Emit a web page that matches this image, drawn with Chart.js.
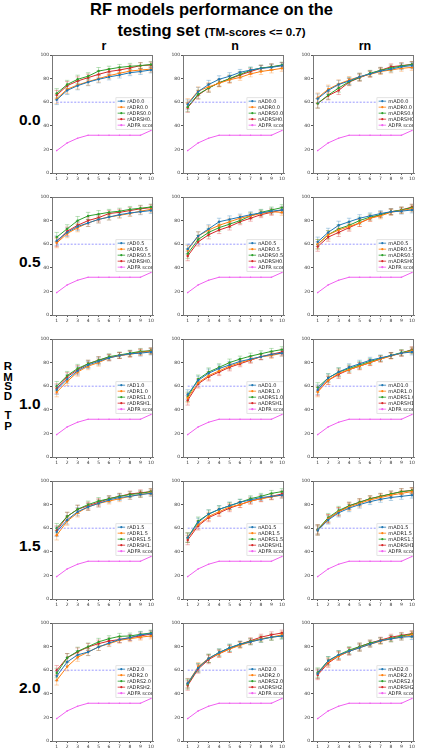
<!DOCTYPE html>
<html>
<head>
<meta charset="utf-8">
<script src="https://cdn.jsdelivr.net/npm/chart.js@4"></script>
<style>
  body { margin: 0; background: #fff; width: 423px; height: 750px; position: relative; overflow: hidden;
         font-family: "Liberation Sans", Arial, sans-serif; }
  .t { position: absolute; font-weight: bold; color: #000; white-space: nowrap; line-height: 1; }
  canvas { position: absolute; }
</style>
</head>
<body>
<div class="t" style="left:0;width:423px;text-align:center;top:1px;font-size:16.5px;">RF models performance on the</div>
<div class="t" style="left:0;width:423px;text-align:center;top:22px;font-size:16.5px;">testing set <span style="font-size:11.5px">(TM-scores &lt;= 0.7)</span></div>
<div id="labels"></div>

<script>
// x positions and y ticks
const XS = [1, 2, 3, 4, 5, 6, 7, 8, 9, 10];
const Y_TICKS = [0, 20, 40, 60, 80, 100];

// shared across every panel
const ADFR = [19, 25.5, 29.5, 32, 32, 32, 32, 32, 32, 36];
const BASELINE = [60, 60, 60, 60, 60, 60, 60, 60, 60, 60];
const ERR = [4, 3.5, 3.5, 3, 3, 2.5, 2.5, 2.5, 2.5, 2.5];

const COL_NAMES = ['r', 'n', 'rn'];
const ROW_NAMES = ['0.0', '0.5', '1.0', '1.5', '2.0'];
const MODELS = ['AD', 'ADR', 'ADRS', 'ADRSH'];

// each panel: [AD, ADR, ADRS, ADRSH]
const R_00 = [
  [62, 70, 74, 77, 79.4, 81.4, 83, 85, 86, 87.3],
  [63, 71, 74.6, 77.4, 80, 82.5, 84.5, 86.4, 87.3, 88],
  [67.5, 75, 79.4, 82, 86.4, 88, 89.5, 90.4, 91, 92],
  [66, 74, 78, 80.8, 83.6, 86, 87.3, 89, 91, 91.5]
];
const N_00 = [
  [58, 69, 75, 79.4, 82, 85.3, 87.3, 88.7, 89.5, 91],
  [59, 69.5, 73, 76, 79, 81, 84, 86, 87.3, 88.7],
  [56, 66.7, 72, 76.5, 80, 83.6, 87, 89, 90, 91.5],
  [55.4, 66, 72, 76.5, 79.7, 83, 86, 88.7, 90, 91]
];
const RN_00 = [
  [63, 70, 75, 78, 81.6, 84, 86.4, 88, 90, 91],
  [63.8, 71, 75.4, 78.8, 81.6, 83.6, 86, 87.3, 88.7, 89.5],
  [59, 66, 72, 77.4, 81, 84.5, 87, 89, 90.7, 92],
  [59, 65.5, 70, 77, 80.8, 84, 87, 90, 91, 92]
];
const R_05 = [
  [63, 70, 75, 78, 81, 83, 85, 86.5, 87.5, 88.5],
  [61, 69, 74, 78, 81, 83, 84.5, 86, 88, 89.5],
  [66, 73, 80, 84, 85.5, 87, 88, 89.5, 90.5, 91.5],
  [62, 71, 76, 80, 82.5, 86, 87, 88.5, 90, 91]
];
const N_05 = [
  [56, 67, 73, 79, 81, 83, 85, 86.5, 88, 89],
  [55, 67, 72, 76, 79, 82, 84, 86, 87.5, 87],
  [52, 64, 70, 74, 77, 80, 84, 87, 89, 91],
  [50, 62, 68, 72, 75, 79, 82, 85, 87, 89]
];
const RN_05 = [
  [62, 70, 76, 79, 82, 84, 86, 87.5, 88, 89],
  [60, 68, 72, 75, 78, 82, 84, 87, 88.5, 90],
  [60, 68, 73, 76, 80, 83, 85, 87.5, 89, 91],
  [58, 66, 70, 74, 78, 82, 85, 87.5, 89, 91.5]
];
const R_10 = [
  [57, 66, 73, 78, 81, 84, 86, 87.5, 88, 89],
  [55, 64, 72, 77, 80, 84, 86, 87, 88.5, 89.5],
  [60, 69, 75, 79, 82, 85, 86.5, 88, 89.5, 90],
  [58, 68, 74, 79, 82, 84.5, 86, 87.5, 89, 90]
];
const N_10 = [
  [53, 65, 71, 75, 78, 81, 83, 85, 87, 88],
  [50, 63, 69, 73, 77, 80, 82.5, 85, 86, 88],
  [51, 66, 72, 76, 80, 83, 85.5, 87.5, 89.5, 91],
  [48, 62, 68, 72, 76, 79, 82, 85, 87, 89]
];
const RN_10 = [
  [57, 67, 72, 76, 79, 82, 84, 86, 88, 89],
  [55, 65, 71, 74, 77, 80, 83, 85.5, 88, 90],
  [59, 67, 72, 75, 78, 81, 83.5, 86, 88.5, 90.5],
  [56, 65, 70, 74, 77, 80, 83, 86, 88, 91]
];
const R_15 = [
  [57, 67, 74, 78, 81, 84, 86, 87, 88.5, 89.5],
  [54, 66, 73, 78, 81, 83, 85, 87, 88.5, 90],
  [60, 70, 76, 80, 83, 85, 87, 88.5, 89.5, 91],
  [58, 70, 76, 79, 82, 85, 87, 89, 90, 91]
];
const N_15 = [
  [52, 65, 72, 76, 79, 82, 84, 86, 87, 88],
  [52, 63, 70, 74, 78, 80, 83, 85, 86.5, 88],
  [52, 66, 72, 76, 79, 82, 85, 87, 89.5, 91],
  [50, 62, 69, 73, 77, 80, 83, 85, 87, 89]
];
const RN_15 = [
  [58, 67, 73, 77, 80, 82.5, 84.5, 86, 87, 88],
  [58, 68, 74, 78, 81, 84, 86, 88, 89.5, 91],
  [59, 69, 75, 79, 82, 85, 87, 89, 91, 92],
  [59, 68, 74, 79, 82, 85, 87, 89, 91, 92]
];
const R_20 = [
  [55, 67, 73, 75.4, 79.7, 83, 86, 87.6, 90, 91],
  [51.4, 63, 71, 75.4, 79.7, 82.5, 85.3, 86.7, 88, 89],
  [57.6, 70.6, 76, 80, 84, 86.7, 88.7, 89, 90.4, 91.5],
  [60, 70.6, 75.4, 79.7, 82.5, 84.7, 86, 87.6, 89, 90.7]
];
const N_20 = [
  [49, 62, 70, 75, 79, 82, 84, 86, 88, 89],
  [49, 63, 70, 74, 78, 81, 84, 86.5, 88, 90],
  [48, 62, 70, 75, 79, 82, 84.5, 86.5, 88, 89],
  [47, 61, 69, 74, 78, 82, 85, 88, 90, 91.5]
];
const RN_20 = [
  [57, 68, 73, 76, 79, 82, 85, 86.5, 88, 88.5],
  [57, 67, 72, 76, 79, 82, 84.5, 86.5, 88, 90],
  [58, 68, 73, 77, 80, 83, 85, 87, 89, 90.5],
  [56, 66, 72, 76, 80, 83, 85.5, 88, 89.5, 91]
];

const PANELS = [
  [R_00, N_00, RN_00],
  [R_05, N_05, RN_05],
  [R_10, N_10, RN_10],
  [R_15, N_15, RN_15],
  [R_20, N_20, RN_20]
];

const COLORS = ['#1f77b4', '#ff7f0e', '#2ca02c', '#d62728'];
const ERR_COLORS = ['rgba(31,119,180,0.4)', 'rgba(255,127,14,0.4)', 'rgba(44,160,44,0.4)', 'rgba(214,39,40,0.4)'];
const ADFR_COLOR = '#f060f0';

// panel geometry (chart area)
const COL_X = [52, 183, 313];
const ROW_Y = [55, 197, 339, 481, 623];
const PW = 104, PH = 118;
const PAD_L = 16, PAD_T = 5, PAD_B = 12, PAD_R = 1;

const errorBars = {
  id: 'errorBars',
  beforeDatasetsDraw(chart) {
    const { ctx, scales: { x, y } } = chart;
    ctx.save();
    chart.data.datasets.forEach(ds => {
      if (!ds.err) return;
      ctx.strokeStyle = ds.errColor;
      ctx.lineWidth = 0.8;
      ds.data.forEach((v, i) => {
        const px = x.getPixelForValue(XS[i]);
        const y1 = y.getPixelForValue(v - ds.err[i]);
        const y2 = y.getPixelForValue(v + ds.err[i]);
        ctx.beginPath();
        ctx.moveTo(px, y1); ctx.lineTo(px, y2);
        ctx.moveTo(px - 2.2, y1); ctx.lineTo(px + 2.2, y1);
        ctx.moveTo(px - 2.2, y2); ctx.lineTo(px + 2.2, y2);
        ctx.stroke();
      });
    });
    ctx.restore();
  }
};

const frameAndLegend = {
  id: 'frameAndLegend',
  afterDatasetsDraw(chart) {
    const { ctx, chartArea: a, scales: { y } } = chart;
    ctx.save();
    ctx.beginPath();
    ctx.rect(a.left, a.top, a.right - a.left, a.bottom - a.top);
    ctx.clip();
    const items = chart.data.datasets.filter(d => d.label);
    const x0 = a.left + 0.63 * (a.right - a.left);
    const y0 = y.getPixelForValue(64);
    const rowH = 6;
    ctx.fillStyle = 'rgba(255,255,255,0.9)';
    ctx.fillRect(x0, y0, 50, items.length * rowH + 1.5);
    ctx.strokeStyle = '#d0d0d0';
    ctx.lineWidth = 0.6;
    ctx.strokeRect(x0 + 0.3, y0 + 0.3, 50, items.length * rowH + 1.5);
    ctx.font = '5px "DejaVu Sans"';
    ctx.textBaseline = 'middle';
    items.forEach((d, i) => {
      const cy = y0 + 3.7 + i * rowH;
      ctx.strokeStyle = d.borderColor;
      ctx.lineWidth = 0.8;
      ctx.beginPath();
      ctx.moveTo(x0 + 2, cy); ctx.lineTo(x0 + 9.5, cy);
      ctx.stroke();
      ctx.fillStyle = d.borderColor;
      ctx.beginPath();
      ctx.arc(x0 + 5.7, cy, 1.1, 0, Math.PI * 2);
      ctx.fill();
      ctx.fillStyle = '#222';
      ctx.fillText(d.label, x0 + 11.5, cy + 0.3);
    });
    ctx.restore();
    ctx.save();
    ctx.strokeStyle = '#777';
    ctx.lineWidth = 1;
    ctx.strokeRect(a.left + 0.5, a.top + 0.5, a.right - a.left - 1, a.bottom - a.top);
    ctx.restore();
  }
};

function makePanel(row, col) {
  const cv = document.createElement('canvas');
  const w = PW + PAD_L + PAD_R, h = PH + PAD_T + PAD_B;
  cv.width = w; cv.height = h;
  cv.style.left = (COL_X[col] - PAD_L) + 'px';
  cv.style.top = (ROW_Y[row] - PAD_T) + 'px';
  document.body.appendChild(cv);

  const series = PANELS[row][col];
  const datasets = series.map((vals, k) => ({
    label: COL_NAMES[col] + MODELS[k] + ROW_NAMES[row],
    data: vals,
    err: ERR,
    errColor: ERR_COLORS[k],
    borderColor: COLORS[k],
    backgroundColor: COLORS[k],
    borderWidth: 1,
    pointRadius: 1.2,
    pointBorderWidth: 0,
    tension: 0
  }));
  datasets.unshift({
    label: '',
    data: BASELINE,
    borderColor: '#8080ff',
    borderWidth: 0.8,
    borderDash: [2, 1.5],
    pointRadius: 0
  });
  datasets.push({
    label: 'ADFR score',
    data: ADFR,
    borderColor: ADFR_COLOR,
    backgroundColor: ADFR_COLOR,
    borderWidth: 1,
    pointRadius: 0.8,
    pointBorderWidth: 0
  });

  new Chart(cv, {
    type: 'line',
    data: { labels: XS, datasets },
    options: {
      responsive: false,
      animation: false,
      events: [],
      layout: { padding: { top: PAD_T, right: PAD_R, left: 0, bottom: 0 } },
      plugins: { legend: { display: false }, tooltip: { enabled: false } },
      scales: {
        x: {
          type: 'linear',
          min: 0.55,
          max: 10.2,
          afterBuildTicks: s => { s.ticks = XS.map(v => ({ value: v })); },
          afterFit: s => { s.height = PAD_B; },
          border: { display: true, color: '#777' },
          grid: { display: true, drawOnChartArea: false, tickLength: 2, color: '#555' },
          ticks: { color: '#333', font: { family: 'DejaVu Sans', size: 4.5 }, padding: 1, maxRotation: 0, autoSkip: false }
        },
        y: {
          min: 0,
          max: 100,
          afterBuildTicks: s => { s.ticks = Y_TICKS.map(v => ({ value: v })); },
          afterFit: s => { s.width = PAD_L; },
          border: { display: true, color: '#777' },
          grid: { display: true, drawOnChartArea: false, tickLength: 2, color: '#555' },
          ticks: { color: '#333', font: { family: 'DejaVu Sans', size: 4.5 }, padding: 1 }
        }
      }
    },
    plugins: [errorBars, frameAndLegend]
  });
}

// headers and row labels
const lab = document.getElementById('labels');
function addText(html, style) {
  const d = document.createElement('div');
  d.className = 't';
  d.innerHTML = html;
  d.setAttribute('style', style);
  lab.appendChild(d);
}
COL_NAMES.forEach((c, i) => {
  addText(c, `left:${COL_X[i]}px;width:${PW}px;text-align:center;top:40px;font-size:12.5px;`);
});
ROW_NAMES.forEach((r, i) => {
  addText(r, `left:19px;top:${ROW_Y[i] + 57}px;font-size:15.5px;`);
});
const RMSD_LETTERS = ['R', 'M', 'S', 'D', 'T', 'P'];
const RMSD_TOPS = [361, 372, 381, 391, 410, 421];
RMSD_LETTERS.forEach((ch, i) => {
  addText(ch, `left:3px;width:10px;text-align:center;top:${RMSD_TOPS[i]}px;font-size:11.5px;`);
});

for (let r = 0; r < ROW_NAMES.length; r++) {
  for (let c = 0; c < COL_NAMES.length; c++) makePanel(r, c);
}
</script>
</body>
</html>
